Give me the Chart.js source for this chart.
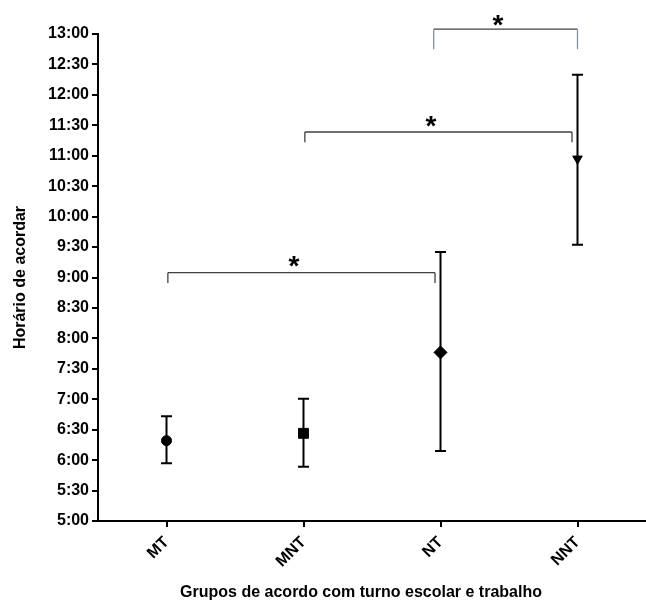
<!DOCTYPE html>
<html>
<head>
<meta charset="utf-8">
<script src="https://cdn.jsdelivr.net/npm/chart.js@4"></script>
<style>
  body { margin: 0; background: #fff; }
  #wrap { width: 646px; height: 604px; }
</style>
</head>
<body>
<div id="wrap"><canvas id="grafico"></canvas></div>
<script>
// grupos e horário de acordar (horas decimais)
var grupos = ["MT", "MNT", "NT", "NNT"];
var media = [6.32, 6.44, 7.77, 10.95];
var limiteSup = [6.72, 7.01, 9.42, 12.33];
var limiteInf = [5.95, 5.89, 6.15, 9.54];
var marcadores = ["circle", "rect", "rectRot", "triangle"];
var rotacao = [0, 0, 0, 180];
var raios = [5, 7, 6.5, 5.5];

// colchetes de significância (índice de categoria e horas)
var colcheteInicio = [0.01, 1.01, 1.95];
var colcheteFim = [1.96, 2.96, 3.0];
var colcheteTopo = [9.08, 11.39, 13.08];
var colcheteBase = [8.91, 11.22, 12.75];
var asteriscoX = [0.93, 1.93, 2.42];
var asteriscoY = [9.3, 11.61, 13.27];
var corPerna = ["#404040", "#404040", "#5b9bd5"];

var tituloX = 'Grupos de acordo com turno escolar e trabalho';
var fonte = "'Liberation Sans', Arial, sans-serif";

function formataHora(v) {
  var h = Math.floor(v);
  var m = Math.round((v - h) * 60);
  return h + ":" + (m < 10 ? "0" + m : m);
}

var barrasErro = {
  id: 'barrasErro',
  beforeDatasetsDraw: function (chart) {
    var ctx = chart.ctx, x = chart.scales.x, y = chart.scales.y;
    ctx.save();
    ctx.strokeStyle = '#000';
    ctx.lineWidth = 2;
    for (var i = 0; i < grupos.length; i++) {
      var px = x.getPixelForValue(i);
      var pSup = y.getPixelForValue(limiteSup[i]);
      var pInf = y.getPixelForValue(limiteInf[i]);
      ctx.beginPath();
      ctx.moveTo(px, pSup); ctx.lineTo(px, pInf);
      ctx.moveTo(px - 5.5, pSup); ctx.lineTo(px + 5.5, pSup);
      ctx.moveTo(px - 5.5, pInf); ctx.lineTo(px + 5.5, pInf);
      ctx.stroke();
    }
    ctx.restore();
  },
  afterDraw: function (chart) {
    var ctx = chart.ctx, x = chart.scales.x, y = chart.scales.y;
    ctx.save();
    ctx.lineWidth = 1.3;
    for (var i = 0; i < colcheteInicio.length; i++) {
      var x1 = x.getPixelForValue(colcheteInicio[i]);
      var x2 = x.getPixelForValue(colcheteFim[i]);
      var yt = y.getPixelForValue(colcheteTopo[i]);
      var yb = y.getPixelForValue(colcheteBase[i]);
      ctx.strokeStyle = '#404040';
      ctx.beginPath();
      ctx.moveTo(x1, yt); ctx.lineTo(x2, yt);
      ctx.stroke();
      ctx.strokeStyle = corPerna[i];
      ctx.beginPath();
      ctx.moveTo(x1, yt); ctx.lineTo(x1, yb);
      ctx.moveTo(x2, yt); ctx.lineTo(x2, yb);
      ctx.stroke();
      // asterisco
      ctx.fillStyle = '#000';
      ctx.font = "bold 28px " + fonte;
      ctx.textAlign = 'center';
      ctx.textBaseline = 'alphabetic';
      ctx.fillText("*", x.getPixelForValue(asteriscoX[i]), y.getPixelForValue(asteriscoY[i]) + 16);
    }
    // título do eixo x (um pouco à esquerda do centro, como no original)
    ctx.font = "bold 16px " + fonte;
    ctx.textAlign = 'center';
    ctx.textBaseline = 'alphabetic';
    ctx.fillText(tituloX, x.getPixelForValue(1.42), 597);
    ctx.restore();
  }
};

var ctxGrafico = document.getElementById("grafico").getContext("2d");
var configGrafico = {
  type: 'line',
  data: {
    labels: grupos,
    datasets: [{
      data: media,
      showLine: false,
      pointStyle: marcadores,
      pointRotation: rotacao,
      pointRadius: raios,
      pointBackgroundColor: '#000',
      pointBorderColor: '#000',
      pointBorderWidth: 1
    }]
  },
  options: {
    responsive: true,
    maintainAspectRatio: false,
    animation: false,
    layout: { autoPadding: false, padding: { top: 34, right: 0, left: 0, bottom: 0 } },
    plugins: { legend: { display: false }, tooltip: { enabled: false } },
    scales: {
      x: {
        type: 'category',
        offset: true,
        grid: { drawOnChartArea: false, drawTicks: true, tickLength: 6, color: '#000', lineWidth: 2 },
        border: { display: true, color: '#000', width: 2 },
        ticks: {
          color: '#000', font: { family: fonte, size: 16, weight: 'bold' },
          minRotation: 45, maxRotation: 45, padding: 6
        },
        afterFit: function (s) { s.height = 83; s.paddingRight = 0; }
      },
      y: {
        min: 5, max: 13,
        grid: { drawOnChartArea: false, drawTicks: true, tickLength: 6, color: '#000', lineWidth: 2 },
        border: { display: true, color: '#000', width: 2 },
        ticks: {
          stepSize: 0.5, color: '#000', padding: 3,
          font: { family: fonte, size: 16, weight: 'bold' },
          callback: function (v) { return formataHora(v); }
        },
        title: {
          display: true, text: 'Horário de acordar',
          color: '#000', font: { family: fonte, size: 16, weight: 'bold' },
          padding: { top: 11, bottom: 0 }
        },
        afterFit: function (s) { s.width = 98; }
      }
    }
  },
  plugins: [barrasErro]
};
var graficoAcordar = new Chart(ctxGrafico, configGrafico);
</script>
</body>
</html>
